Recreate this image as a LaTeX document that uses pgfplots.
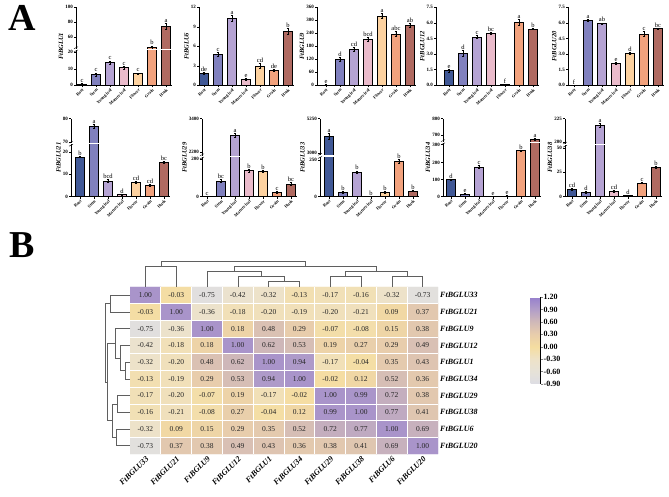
\documentclass[border=0pt]{standalone}
\usepackage{pgfplots}
\pgfplotsset{compat=1.18}
\usepackage{pgfplotstable}
\usepackage{fontspec}
\setmainfont{Liberation Serif}

\definecolor{c1}{RGB}{64,88,150}
\definecolor{c2}{RGB}{128,128,190}
\definecolor{c3}{RGB}{181,163,211}
\definecolor{c4}{RGB}{234,187,203}
\definecolor{c5}{RGB}{253,210,160}
\definecolor{c6}{RGB}{242,162,125}
\definecolor{c7}{RGB}{176,106,97}
\definecolor{dgr}{RGB}{95,95,95}

\newcommand{\fs}[1]{\fontsize{#1}{#1}\selectfont}

\pgfplotsset{
  /pgf/number format/assume math mode=true,
  bchart/.style={
    scale only axis, x=14pt, height=78pt, anchor=south west,
    axis lines*=left, axis line style={line width=0.6pt},
    xmax=7.4, ymin=0, clip=false,
    xtick={1,2,3,4,5,6,7},
    xticklabels={Root,Stem,Young leaf,Mature leaf,Flower,Grain,Husk},
    x tick label style={rotate=45, anchor=north east, font=\fs{4.3}\bfseries, inner sep=0.5pt},
    y tick label style={font=\fs{5}\bfseries, inner sep=1pt},
    tick align=outside, major tick length=2pt, tick style={line width=0.5pt, black},
    ylabel style={font=\fs{6.5}\bfseries\itshape, inner sep=0pt},
    ylabel shift=1pt,
  },
}

% bars coloured by tissue, with error bars
\newcommand{\drawbars}[1]{%
  \pgfplotsinvokeforeach{1,2,3,4,5,6,7}{%
    \addplot[ybar, bar width=8.6pt, fill=c##1, draw=black, line width=0.5pt,
      x filter/.expression={abs(x-##1)<0.3 ? x : nan},
      error bars/.cd, y dir=both, y explicit,
      error bar style={line width=0.5pt, black},
      error mark options={rotate=90, mark size=1.4pt, line width=0.5pt, black}]
      table[x=x, y=y, y error=e] {#1};
  }%
}
% significance letters
\newcommand{\drawlabels}[1]{%
  \addplot[draw=none, nodes near coords, point meta=explicit symbolic,
    every node near coord/.append style={font=\fs{6.5}, anchor=south, inner sep=0.6pt}]
    table[x=x, y expr=\thisrow{y}+\thisrow{e}, meta=l] {#1};
}
% axis break
\newcommand{\brk}[2]{%
  \draw[white, line width=1.3pt] (axis cs:#1,#2) -- (axis cs:7.4,#2);
  \draw[black, line width=0.4pt] ([xshift=-2pt,yshift=-2.6pt]axis cs:#1,#2) -- ++(4pt,2pt);
  \draw[black, line width=0.4pt] ([xshift=-2pt,yshift=0.6pt]axis cs:#1,#2) -- ++(4pt,2pt);
}

% ---- panel A data (broken axes are stored in display units) ----
\pgfplotstableread{
x y e l
1 1.5 0.6 c
2 11 1.5 c
3 23 1.5 c
4 17.6 1.5 c
5 12 0.5 c
6 38 1.5 b
7 59 3 a
}\tA
\pgfplotstableread{
x y e l
1 1.85 0.15 de
2 4.77 0.35 c
3 10.3 0.5 a
4 0.97 0.12 e
5 3.0 0.35 cd
6 2.3 0.12 de
7 8.26 0.45 b
}\tB
\pgfplotstableread{
x y e l
1 2 1 e
2 121 8 d
3 166 10 cd
4 212 10 bcd
5 321 12 a
6 237 12 abc
7 278 10 ab
}\tC
\pgfplotstableread{
x y e l
1 1.41 0.15 e
2 3.08 0.25 d
3 4.65 0.15 c
4 5.0 0.08 bc
5 0.06 0.03 f
6 6.03 0.3 a
7 5.42 0.05 b
}\tD
\pgfplotstableread{
x y e l
1 0.02 0.01 f
2 6.22 0.1 a
3 5.96 0.05 ab
4 2.12 0.08 e
5 3.08 0.1 d
6 4.94 0.22 c
7 5.45 0.05 bc
}\tE
\pgfplotstableread{
x y e l
1 40 0.8 b
2 71 2 a
3 15.7 1.5 bcd
4 2.3 0.5 d
5 14.7 1 cd
6 11 1 cd
7 34.3 1 bc
}\tF
\pgfplotstableread{
x y e l
1 0.5 0.3 c
2 15.7 1.2 bc
3 60.7 2 a
4 26 1.5 b
5 25.3 1 b
6 4.3 0.8 c
7 12.7 1.2 bc
}\tG
\pgfplotstableread{
x y e l
1 60.7 3 a
2 4 1 b
3 25 1 b
4 0.5 0.3 b
5 4.3 1 b
6 35.7 2 b
7 5.7 0.5 b
}\tH
\pgfplotstableread{
x y e l
1 17.3 0.3 d
2 2.7 0.7 e
3 30 1.2 c
4 0.3 0.2 e
5 0.7 0.3 e
6 46.3 0.7 b
7 58 1 a
}\tI
\pgfplotstableread{
x y e l
1 7.7 1 cd
2 4.7 1 d
3 71.7 2 a
4 5.7 1 cd
5 1.3 0.3 d
6 14 0.7 c
7 29.3 1 b
}\tJ

% ---- panel B correlation matrix ----
\pgfplotstableread[row sep=\\]{
x y v \\
0 0 1.00 \\ 1 0 -0.03 \\ 2 0 -0.75 \\ 3 0 -0.42 \\ 4 0 -0.32 \\ 5 0 -0.13 \\ 6 0 -0.17 \\ 7 0 -0.16 \\ 8 0 -0.32 \\ 9 0 -0.73 \\
0 1 -0.03 \\ 1 1 1.00 \\ 2 1 -0.36 \\ 3 1 -0.18 \\ 4 1 -0.20 \\ 5 1 -0.19 \\ 6 1 -0.20 \\ 7 1 -0.21 \\ 8 1 0.09 \\ 9 1 0.37 \\
0 2 -0.75 \\ 1 2 -0.36 \\ 2 2 1.00 \\ 3 2 0.18 \\ 4 2 0.48 \\ 5 2 0.29 \\ 6 2 -0.07 \\ 7 2 -0.08 \\ 8 2 0.15 \\ 9 2 0.38 \\
0 3 -0.42 \\ 1 3 -0.18 \\ 2 3 0.18 \\ 3 3 1.00 \\ 4 3 0.62 \\ 5 3 0.53 \\ 6 3 0.19 \\ 7 3 0.27 \\ 8 3 0.29 \\ 9 3 0.49 \\
0 4 -0.32 \\ 1 4 -0.20 \\ 2 4 0.48 \\ 3 4 0.62 \\ 4 4 1.00 \\ 5 4 0.94 \\ 6 4 -0.17 \\ 7 4 -0.04 \\ 8 4 0.35 \\ 9 4 0.43 \\
0 5 -0.13 \\ 1 5 -0.19 \\ 2 5 0.29 \\ 3 5 0.53 \\ 4 5 0.94 \\ 5 5 1.00 \\ 6 5 -0.02 \\ 7 5 0.12 \\ 8 5 0.52 \\ 9 5 0.36 \\
0 6 -0.17 \\ 1 6 -0.20 \\ 2 6 -0.07 \\ 3 6 0.19 \\ 4 6 -0.17 \\ 5 6 -0.02 \\ 6 6 1.00 \\ 7 6 0.99 \\ 8 6 0.72 \\ 9 6 0.38 \\
0 7 -0.16 \\ 1 7 -0.21 \\ 2 7 -0.08 \\ 3 7 0.27 \\ 4 7 -0.04 \\ 5 7 0.12 \\ 6 7 0.99 \\ 7 7 1.00 \\ 8 7 0.77 \\ 9 7 0.41 \\
0 8 -0.32 \\ 1 8 0.09 \\ 2 8 0.15 \\ 3 8 0.29 \\ 4 8 0.35 \\ 5 8 0.52 \\ 6 8 0.72 \\ 7 8 0.77 \\ 8 8 1.00 \\ 9 8 0.69 \\
0 9 -0.73 \\ 1 9 0.37 \\ 2 9 0.38 \\ 3 9 0.49 \\ 4 9 0.43 \\ 5 9 0.36 \\ 6 9 0.38 \\ 7 9 0.41 \\ 8 9 0.69 \\ 9 9 1.00 \\
}\hm

\begin{document}
\begin{tikzpicture}[x=1pt,y=1pt]
\path (0,0) rectangle (669,496);
\node[font=\fs{38}\bfseries] at (22,478) {A};
\node[font=\fs{38}\bfseries] at (22,251) {B};

% ---------- row 1 ----------
\begin{axis}[bchart, at={(76pt,410.7pt)}, xmin=0.57, ymax=78,
  ytick={0,16.5,33,48,63,78}, yticklabels={0,10,20,60,80,100}, ylabel={FtBGLU1}]
\drawbars{\tA}\brk{0.57}{36}\drawlabels{\tA}
\end{axis}
\begin{axis}[bchart, at={(199pt,410.7pt)}, xmin=0.64, ymax=12,
  ytick={0,3,6,9,12}, ylabel={FtBGLU6}]
\drawbars{\tB}\drawlabels{\tB}
\end{axis}
\begin{axis}[bchart, at={(317pt,410.7pt)}, xmin=0.36, ymax=360,
  ytick={0,60,120,180,240,300,360}, ylabel={FtBGLU9}]
\drawbars{\tC}\drawlabels{\tC}
\end{axis}
\begin{axis}[bchart, at={(436pt,410.7pt)}, xmin=0.07, ymax=7.5,
  ytick={0,1.5,3,4.5,6,7.5}, ylabel={FtBGLU12},
  yticklabel style={/pgf/number format/.cd, fixed, fixed zerofill, precision=1}]
\drawbars{\tD}\drawlabels{\tD}
\end{axis}
\begin{axis}[bchart, at={(568pt,410.7pt)}, xmin=0.57, ymax=7.5,
  ytick={0,1.5,3,4.5,6,7.5}, ylabel={FtBGLU20},
  yticklabel style={/pgf/number format/.cd, fixed, fixed zerofill, precision=1}]
\drawbars{\tE}\drawlabels{\tE}
\end{axis}

% ---------- row 2 ----------
\begin{axis}[bchart, at={(71pt,299.3pt)}, xmin=0.36, ymax=78.3,
  ytick={0,22.7,45,55,78.3}, yticklabels={0,10,20,70,80}, ylabel={FtBGLU21}]
\drawbars{\tF}\brk{0.36}{53.3}\drawlabels{\tF}
\end{axis}
\begin{axis}[bchart, at={(202pt,299.3pt)}, xmin=0.64, ymax=77.3,
  ytick={0,37.5,44,77.3}, yticklabels={0,200,2200,3400}, ylabel={FtBGLU29}]
\drawbars{\tG}\brk{0.64}{40}\drawlabels{\tG}
\end{axis}
\begin{axis}[bchart, at={(320pt,299.3pt)}, xmin=0.36, ymax=78.3,
  ytick={0,36.7,44,78.3}, yticklabels={0,250,3000,5250}, ylabel={FtBGLU33}]
\drawbars{\tH}\brk{0.36}{41}\drawlabels{\tH}
\end{axis}
\begin{axis}[bchart, at={(443pt,299.3pt)}, xmin=0.43, ymax=78.3,
  ytick={0,17.3,34.3,52.3,61.7,78.3}, yticklabels={0,100,200,300,700,800}, ylabel={FtBGLU34}]
\drawbars{\tI}\brk{0.43}{54.7}\drawlabels{\tI}
\end{axis}
\begin{axis}[bchart, at={(565pt,299.3pt)}, xmin=0.5, ymax=78.3,
  ytick={0,25,49,55,78.3}, yticklabels={0,25,50,200,225}, ylabel={FtBGLU38}]
\drawbars{\tJ}\brk{0.5}{52.3}\drawlabels{\tJ}
\end{axis}

% ---------- panel B heatmap ----------
\begin{axis}[at={(130pt,42pt)}, anchor=south west, scale only axis,
  width=308pt, height=167pt,
  xmin=-0.5, xmax=9.5, ymin=-0.5, ymax=9.5, y dir=reverse, enlargelimits=false,
  xtick={0,...,9}, ytick={0,...,9},
  xticklabels={FtBGLU33,FtBGLU21,FtBGLU9,FtBGLU12,FtBGLU1,FtBGLU34,FtBGLU29,FtBGLU38,FtBGLU6,FtBGLU20},
  yticklabels={FtBGLU33,FtBGLU21,FtBGLU9,FtBGLU12,FtBGLU1,FtBGLU34,FtBGLU29,FtBGLU38,FtBGLU6,FtBGLU20},
  yticklabel pos=right,
  x tick label style={rotate=45, anchor=north east, font=\fs{8}\bfseries\itshape, inner sep=1pt},
  y tick label style={anchor=west, font=\fs{8}\bfseries\itshape, inner sep=2pt},
  major tick length=0pt, axis line style={draw=none},
  minor xtick={0.5,1.5,...,8.5}, minor ytick={0.5,1.5,...,8.5}, minor tick length=0pt,
  xminorgrids, yminorgrids, minor grid style={white, line width=0.8pt},
  axis on top,
  colormap={hm}{rgb255(0cm)=(221,221,228); rgb255(1cm)=(230,226,216); rgb255(2cm)=(238,226,200);
    rgb255(3cm)=(245,221,160); rgb255(4cm)=(232,205,172); rgb255(5cm)=(208,185,184);
    rgb255(6cm)=(178,158,200); rgb255(7cm)=(150,128,205)},
  point meta min=-0.9, point meta max=1.2,
  colorbar,
  colorbar style={at={(parent axis.north east)}, anchor=north west,
    xshift=84pt, yshift=-10pt, width=10pt, height=87pt, y dir=normal,
    axis x line=none, axis y line*=right,
    ytick={-0.9,-0.6,-0.3,0,0.3,0.6,0.9,1.2},
    yticklabel style={font=\fs{8}\bfseries, inner sep=1pt,
      /pgf/number format/.cd, fixed, fixed zerofill, precision=2},
    major tick length=2pt, tick align=outside},
]
\addplot[matrix plot*, mesh/cols=10, point meta=explicit] table[x=x, y=y, meta=v] {\hm};
\addplot[draw=none, nodes near coords, point meta=explicit symbolic,
  every node near coord/.append style={anchor=center, font=\fs{7.5}, text=black!85}]
  table[x=x, y=y, meta=v] {\hm};
\end{axis}

% top dendrogram
\begin{axis}[at={(130pt,209pt)}, anchor=south west, scale only axis,
  width=308pt, height=35pt, xmin=-0.5, xmax=9.5, ymin=0, ymax=35, hide axis, clip=false]
\addplot[dgr, line width=0.6pt] coordinates {(4,0) (4,6) (5,6) (5,0)};
\addplot[dgr, line width=0.6pt] coordinates {(3,0) (3,11) (4.5,11) (4.5,6)};
\addplot[dgr, line width=0.6pt] coordinates {(2,0) (2,16) (3.75,16) (3.75,11)};
\addplot[dgr, line width=0.6pt] coordinates {(6,0) (6,11) (7,11) (7,0)};
\addplot[dgr, line width=0.6pt] coordinates {(8,0) (8,11) (9,11) (9,0)};
\addplot[dgr, line width=0.6pt] coordinates {(6.5,11) (6.5,16) (8.5,16) (8.5,11)};
\addplot[dgr, line width=0.6pt] coordinates {(0,0) (0,21) (1,21) (1,0)};
\addplot[dgr, line width=0.6pt] coordinates {(2.875,16) (2.875,21) (7.5,21) (7.5,16)};
\addplot[dgr, line width=0.6pt] coordinates {(0.5,21) (0.5,26) (5.1875,26) (5.1875,21)};
\end{axis}

% left dendrogram
\begin{axis}[at={(130pt,42pt)}, anchor=south east, scale only axis,
  width=35pt, height=167pt, xmin=0, xmax=35, x dir=reverse,
  ymin=-0.5, ymax=9.5, y dir=reverse, hide axis, clip=false]
\addplot[dgr, line width=0.6pt] coordinates {(0,4) (5,4) (5,5) (0,5)};
\addplot[dgr, line width=0.6pt] coordinates {(0,3) (10,3) (10,4.5) (5,4.5)};
\addplot[dgr, line width=0.6pt] coordinates {(0,2) (15,2) (15,3.75) (10,3.75)};
\addplot[dgr, line width=0.6pt] coordinates {(0,6) (13,6) (13,7) (0,7)};
\addplot[dgr, line width=0.6pt] coordinates {(0,8) (14,8) (14,9) (0,9)};
\addplot[dgr, line width=0.6pt] coordinates {(13,6.5) (18,6.5) (18,8.5) (14,8.5)};
\addplot[dgr, line width=0.6pt] coordinates {(0,0) (20,0) (20,1) (0,1)};
\addplot[dgr, line width=0.6pt] coordinates {(15,2.875) (23,2.875) (23,7.5) (18,7.5)};
\addplot[dgr, line width=0.6pt] coordinates {(20,0.5) (25,0.5) (25,5.1875) (23,5.1875)};
\end{axis}
\end{tikzpicture}
\end{document}
